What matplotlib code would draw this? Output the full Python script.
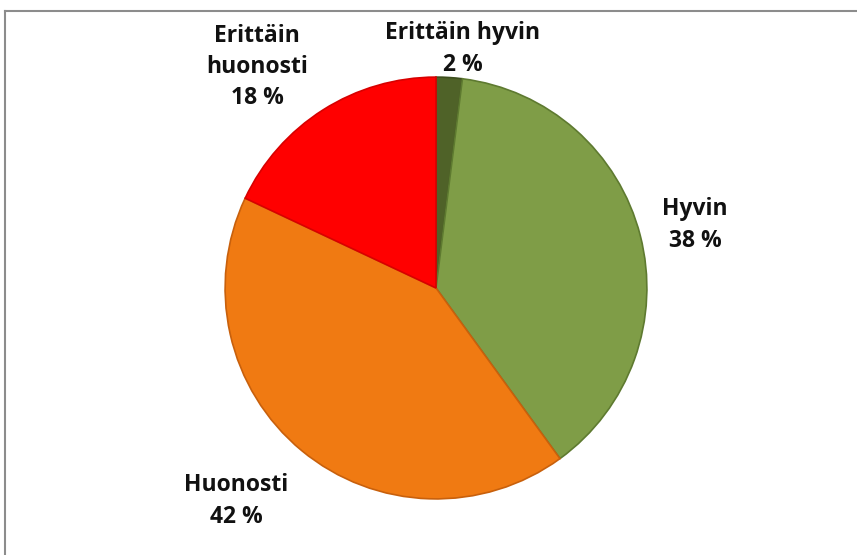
import matplotlib.pyplot as plt
from matplotlib.lines import Line2D

# survey answers, share in percent
labels = ['Erittäin hyvin', 'Hyvin', 'Huonosti', 'Erittäin\nhuonosti']
shares = [2, 38, 42, 18]
colors = ['#4F6228', '#7F9D47', '#F07A12', '#FF0000']
edges = ['#3E4F1E', '#5E7A30', '#C8600C', '#D80000']

plt.rcParams['font.family'] = ['Open Sans', 'DejaVu Sans']

fig = plt.figure(figsize=(8.57, 5.55), dpi=100)
# pie axes: centre ~ (436, 288) px, radius ~ 213 px
cx, cy, r = 436, 288, 213
ax = fig.add_axes([(cx - r) / 857, (555 - cy - r) / 555, 2 * r / 857, 2 * r / 555])
wedges, _ = ax.pie(shares, colors=colors, startangle=90, counterclock=False,
                   wedgeprops=dict(linewidth=1.2))
for w, ec in zip(wedges, edges):
    w.set_edgecolor(ec)
ax.set_xlim(-1.01, 1.01)
ax.set_ylim(-1.01, 1.01)
ax.set_aspect('equal')
ax.axis('off')

# label positions in pixels (figure coords)
label_pos = [(463, 49), (695, 225), (236, 501), (257, 67)]
for lab, s, (x, y) in zip(labels, shares, label_pos):
    fig.text(x / 857, 1 - y / 555, f'{lab}\n{s} %', ha='center', va='center',
             fontsize=16.5, fontweight='bold', linespacing=1.4, color='#111111')

# partial frame (top and left edges only)
fig.add_artist(Line2D([5 / 857, 1], [1 - 11 / 555] * 2, color='#8C8C8C', lw=1.5,
                      transform=fig.transFigure))
fig.add_artist(Line2D([5 / 857] * 2, [0, 1 - 11 / 555], color='#8C8C8C', lw=1.5,
                      transform=fig.transFigure))

fig.savefig('out.png', dpi=100)
